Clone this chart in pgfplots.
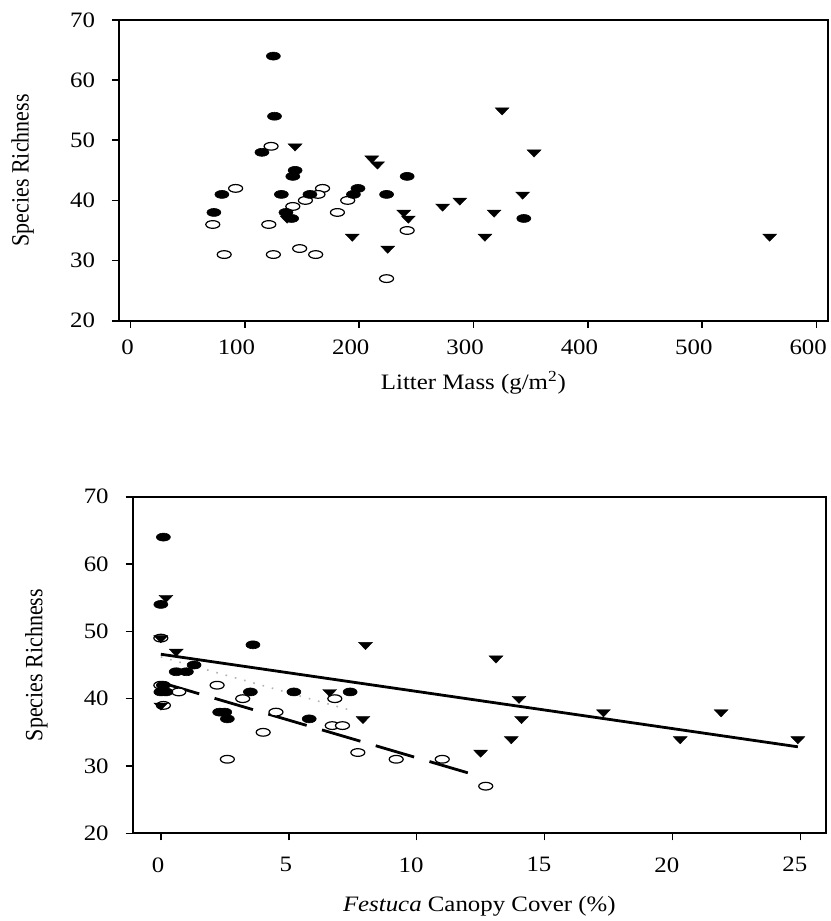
\documentclass[border=0pt]{standalone}
\usepackage{graphicx}
\usepackage{pgfplots}
\pgfplotsset{compat=1.18}
\usepackage{fontspec}
\setmainfont{Liberation Serif}[FakeStretch=1.13]
\newfontfamily\ylabfont{Liberation Serif}

\pgfplotstableread{
x y
125 64
126 54
115 48
144 45
142 44
80 41
132 41
157 41
73 38
136 38
141 37
199 42
195 41
242 44
224 41
344 37
}\topfilled
\pgfplotstableread{
x y
123 49
92 42
168 42
164 41
153 40
142 39
190 40
181 38
72 36
121 36
82 31
125 31
148 32
162 31
242 35
224 27
}\topopen
\pgfplotstableread{
x y
144 49
137 37
194 34
325 55
353 48
211 47
216 46
239 38
243 37
225 32
273 39
288 40
318 38
343 41
310 34
559 34
}\toptri
\pgfplotstableread{
x y
0.1 64
0.0 54
0.0 41
0.2 41
0.1 42
0.6 44
1.0 44
1.3 45
3.6 48
3.5 41
5.2 41
7.4 41
2.3 38
2.5 38
2.6 37
5.8 37
}\botfilled
\pgfplotstableread{
x y
0.0 49
0.0 42
0.7 41
0.1 39
2.2 42
3.2 40
4.5 38
4.0 35
2.6 31
6.8 40
6.7 36
7.1 36
7.7 32
9.2 31
11.0 31
12.7 27
}\botopen
\pgfplotstableread{
x y
0.2 55
0.0 49
0.6 47
0.0 39
6.6 41
8.0 48
7.9 37
13.1 46
14.0 40
14.1 37
13.7 34
12.5 32
17.3 38
20.3 34
21.9 38
24.9 34
}\bottri

\pgfplotsset{
  myaxis/.style={
    scale only axis,
    axis line style={line width=0.9pt, black},
    tick style={line width=0.8pt, black},
    tick align=outside,
    major tick length=3.5pt,
    xtick pos=bottom, ytick pos=left,
    ymin=20, ymax=70, ytick={20,30,...,70},
    /pgf/number format/assume math mode=true,
    ticklabel style={font=\fontsize{11}{13}\selectfont},
    label style={font=\fontsize{11}{13}\selectfont},
    xticklabel={\setbox0=\hbox{\pgfmathprintnumber{\tick}}\copy0\hspace*{0.45\wd0}},
    yticklabel style={xshift=-5pt},
    ylabel style={font=\ylabfont\fontsize{11}{13}\selectfont, anchor=center},
  },
  fillell/.style={only marks, mark=*, mark size=3.5pt, mark options={fill=black, draw=black, line width=0.3pt, yscale=0.57}},
  openell/.style={only marks, mark=*, mark size=3.5pt, mark options={fill=white, draw=black, line width=0.6pt, yscale=0.55}},
  tri/.style={only marks, mark=triangle*, mark size=4.0pt, mark options={fill=black, draw=black, line width=0.2pt, rotate=180, yscale=0.6}},
}

\begin{document}
\begin{tikzpicture}[font=\fontsize{11}{13}\selectfont]
\useasboundingbox (0,0) rectangle (415pt,-460.5pt);

\begin{axis}[myaxis,
  at={(59.5pt,-160.35pt)}, anchor=south west,
  width=354.5pt, height=150.35pt,
  xmin=-10, xmax=610, xtick={0,100,...,600},
  xticklabel style={yshift=-2.5pt},
  xlabel={Litter Mass (g/m\textsuperscript{2})},
  xlabel style={at={(axis description cs:0.5,0)}, anchor=center, yshift=-31pt},
  ylabel={\scalebox{1}[1.13]{Species Richness}},
  ylabel style={at={(axis description cs:-0.136,0.5)}},
]
\addplot[openell] table {\topopen};
\addplot[fillell] table {\topfilled};
\addplot[tri] table {\toptri};
\end{axis}

\begin{axis}[myaxis,
  at={(66.35pt,-416.65pt)}, anchor=south west,
  width=346.65pt, height=168.3pt,
  xmin=-1.1, xmax=26, xtick={0,5,...,25},
  xticklabel style={yshift=-5pt},
  xlabel={\textit{Festuca} Canopy Cover (\%)},
  xlabel style={at={(axis description cs:0.5,0)}, anchor=center, yshift=-36.5pt},
  ylabel={\scalebox{1}[1.13]{Species Richness}},
  ylabel style={at={(axis description cs:-0.139,0.5)}},
]
\addplot[line width=1.4pt] coordinates {(0,46.6) (24.9,32.85)};
\addplot[line width=1.4pt, dash pattern=on 20pt off 8pt] coordinates {(0,42.4) (12.3,28.65)};
\addplot[line width=0.8pt, black!30, dash pattern=on 0.8pt off 4pt] coordinates {(0,46.2) (7.4,38.3)};
\addplot[openell] table {\botopen};
\addplot[fillell] table {\botfilled};
\addplot[tri] table {\bottri};
\end{axis}
\end{tikzpicture}
\end{document}
